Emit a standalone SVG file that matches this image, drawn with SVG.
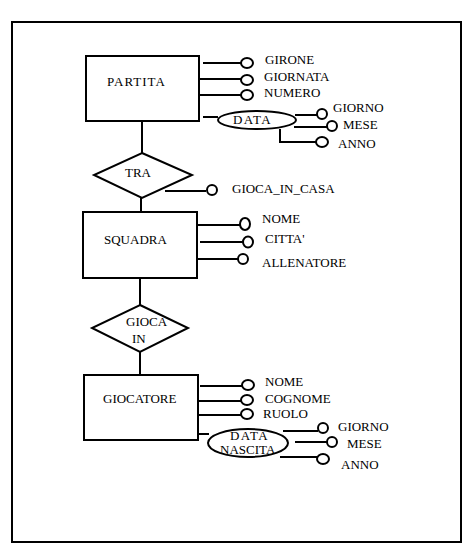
<svg xmlns="http://www.w3.org/2000/svg" width="474" height="550" viewBox="0 0 474 550">
<style>
.frame{fill:none;stroke:#000;stroke-width:2}
.box{fill:#fff;stroke:#000;stroke-width:2}
.ln{fill:none;stroke:#000;stroke-width:2}
.at{fill:#fff;stroke:#000;stroke-width:2}
text{font-family:"Liberation Serif","Times New Roman",serif;font-size:13px;fill:#000}
</style>
<rect width="474" height="550" fill="#fff"/>
<rect class="frame" x="12" y="22" width="449" height="520"/>
<g id="connectors">
<line class="ln" x1="142" y1="121" x2="142" y2="153"/>
<line class="ln" x1="141" y1="198" x2="141" y2="212"/>
<line class="ln" x1="140" y1="279" x2="140" y2="305"/>
<line class="ln" x1="140" y1="352" x2="140" y2="375"/>
</g>
<g id="partita">
<rect class="box" x="86" y="56" width="113" height="65"/>
<text x="107" y="86" letter-spacing="1">PARTITA</text>
</g>
<g id="partita-attrs">
<line class="ln" x1="203" y1="63" x2="241" y2="63"/>
<ellipse class="at" cx="247" cy="63" rx="6" ry="5"/>
<text x="265" y="64">GIRONE</text>
<line class="ln" x1="199" y1="79" x2="241" y2="79"/>
<ellipse class="at" cx="247" cy="80" rx="6" ry="5"/>
<text x="264" y="81">GIORNATA</text>
<line class="ln" x1="199" y1="95" x2="241" y2="95"/>
<ellipse class="at" cx="247" cy="95" rx="6" ry="5"/>
<text x="264" y="97">NUMERO</text>
</g>
<g id="data">
<line class="ln" x1="203" y1="117" x2="218" y2="117"/>
<ellipse class="at" cx="257" cy="120" rx="39" ry="9"/>
<text x="233" y="124" letter-spacing="1.3">DATA</text>
<line class="ln" x1="295" y1="115" x2="317" y2="115"/>
<ellipse class="at" cx="322" cy="114" rx="5" ry="5"/>
<text x="333" y="112">GIORNO</text>
<line class="ln" x1="294" y1="127" x2="327" y2="127"/>
<ellipse class="at" cx="332" cy="126" rx="5" ry="5"/>
<text x="343" y="129">MESE</text>
<polyline class="ln" points="280,129 280,142 316,142"/>
<ellipse class="at" cx="322" cy="142" rx="6" ry="5"/>
<text x="338" y="148">ANNO</text>
</g>
<g id="tra">
<polygon class="box" points="142,153 192,175 142,198 94,175"/>
<text x="125" y="177">TRA</text>
<line class="ln" x1="165" y1="191" x2="206" y2="191"/>
<ellipse class="at" cx="212" cy="190" rx="5" ry="5"/>
<text x="232" y="193">GIOCA_IN_CASA</text>
</g>
<g id="squadra">
<rect class="box" x="83" y="212" width="114" height="66"/>
<text x="104" y="244">SQUADRA</text>
</g>
<g id="squadra-attrs">
<line class="ln" x1="198" y1="225" x2="240" y2="225"/>
<ellipse class="at" cx="245" cy="224" rx="5" ry="6"/>
<text x="262" y="223">NOME</text>
<line class="ln" x1="200" y1="242" x2="243" y2="242"/>
<ellipse class="at" cx="248" cy="242" rx="5" ry="5.5"/>
<text x="265" y="243">CITTA'</text>
<line class="ln" x1="198" y1="259" x2="238" y2="259"/>
<ellipse class="at" cx="243" cy="259" rx="5" ry="5"/>
<text x="262" y="267">ALLENATORE</text>
</g>
<g id="gioca-in">
<polygon class="box" points="140,305 188,328 140,352 92,328"/>
<text x="126" y="326">GIOCA</text>
<text x="132" y="343">IN</text>
</g>
<g id="giocatore">
<rect class="box" x="84" y="375" width="114" height="65"/>
<text x="103" y="403">GIOCATORE</text>
</g>
<g id="giocatore-attrs">
<line class="ln" x1="200" y1="386" x2="242" y2="386"/>
<ellipse class="at" cx="248" cy="385" rx="6" ry="5"/>
<text x="265" y="386">NOME</text>
<line class="ln" x1="199" y1="401" x2="241" y2="401"/>
<ellipse class="at" cx="247" cy="400" rx="6" ry="5"/>
<text x="265" y="403">COGNOME</text>
<line class="ln" x1="199" y1="415" x2="241" y2="415"/>
<ellipse class="at" cx="247" cy="414" rx="6" ry="5"/>
<text x="263" y="418">RUOLO</text>
</g>
<g id="data-nascita">
<line class="ln" x1="198" y1="434" x2="209" y2="434"/>
<ellipse class="at" cx="248" cy="443" rx="40" ry="14"/>
<text x="230" y="440" letter-spacing="1.3">DATA</text>
<text x="220" y="454">NASCITA</text>
<line class="ln" x1="283" y1="431" x2="318" y2="431"/>
<ellipse class="at" cx="323" cy="428" rx="5" ry="5"/>
<text x="338" y="431">GIORNO</text>
<line class="ln" x1="295" y1="442" x2="327" y2="442"/>
<ellipse class="at" cx="332" cy="442" rx="5" ry="5"/>
<text x="347" y="448">MESE</text>
<line class="ln" x1="280" y1="457" x2="317" y2="457"/>
<ellipse class="at" cx="323" cy="459" rx="6" ry="5"/>
<text x="341" y="469">ANNO</text>
</g>
</svg>
